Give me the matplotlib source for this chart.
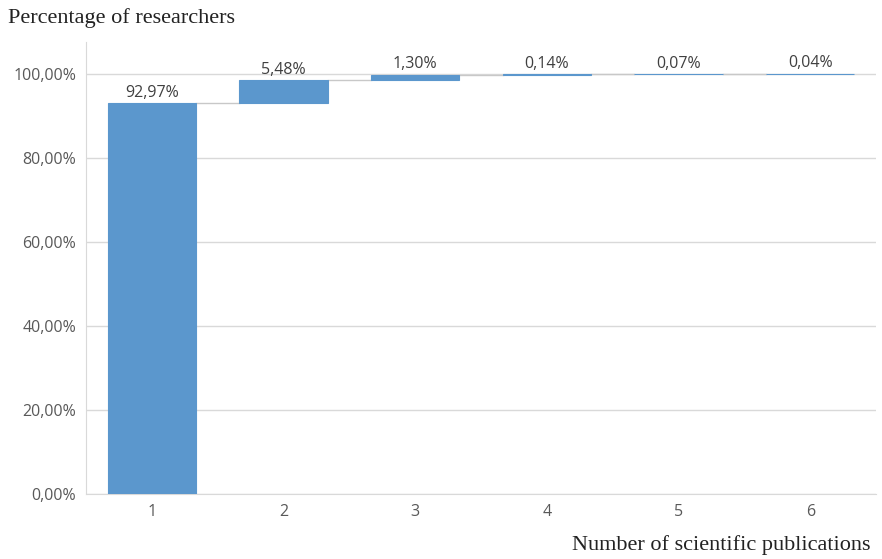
import matplotlib
matplotlib.use("Agg")
import matplotlib.pyplot as plt
import numpy as np

categories = ["1", "2", "3", "4", "5", "6"]
shares = [92.97, 5.48, 1.30, 0.14, 0.07, 0.04]
labels = ["92,97%", "5,48%", "1,30%", "0,14%", "0,07%", "0,04%"]
yticks = [0, 20, 40, 60, 80, 100]
ytick_labels = ["0,00%", "20,00%", "40,00%", "60,00%", "80,00%", "100,00%"]

bar_color = "#5b97cd"
grid_color = "#d9d9d9"
text_color = "#595959"

fig = plt.figure(figsize=(8.82, 5.59), dpi=100)
ax = fig.add_axes([0.0975, 0.1163, 0.8958, 0.8087])

x = np.arange(len(categories))
tops = np.cumsum(shares)
bases = tops - np.array(shares)
width = 0.67

ax.set_axisbelow(True)
for t in yticks:
    ax.axhline(t, color=grid_color, lw=1.0, zorder=0)

# thin outline keeps the very small steps visible
ax.bar(x, shares, bottom=bases, width=width, color=bar_color,
       edgecolor=bar_color, linewidth=0.8, zorder=3)

# connectors between consecutive bars
for i in range(len(x) - 1):
    ax.plot([x[i] + width / 2, x[i + 1] - width / 2], [tops[i], tops[i]],
            color="#c8c8c8", lw=1.0, zorder=2)

for xi, top, lab in zip(x, tops, labels):
    ax.text(xi, top + 0.6, lab, ha="center", va="bottom", fontsize=11.5,
            color="#404040", family="Open Sans")

ax.set_xlim(-0.5, len(categories) - 0.5)
ax.set_ylim(0, 107.6)
ax.set_xticks(x)
ax.set_xticklabels(categories, fontsize=11.5, color=text_color, family="Open Sans")
ax.set_yticks(yticks)
ax.set_yticklabels(ytick_labels, fontsize=11.5, color=text_color, family="Open Sans")
ax.tick_params(length=0, pad=7)

for side in ["top", "right"]:
    ax.spines[side].set_visible(False)
ax.spines["left"].set_color(grid_color)
ax.spines["bottom"].set_color(grid_color)

fig.text(8 / 882, 1 - 18 / 559, "Percentage of researchers", ha="left", va="center",
         fontsize=16, family="Liberation Serif", color="#222222")
fig.text(871 / 882, 1 - 545 / 559, "Number of scientific publications", ha="right",
         va="center", fontsize=16, family="Liberation Serif", color="#222222")

fig.savefig("out.png", dpi=100)
